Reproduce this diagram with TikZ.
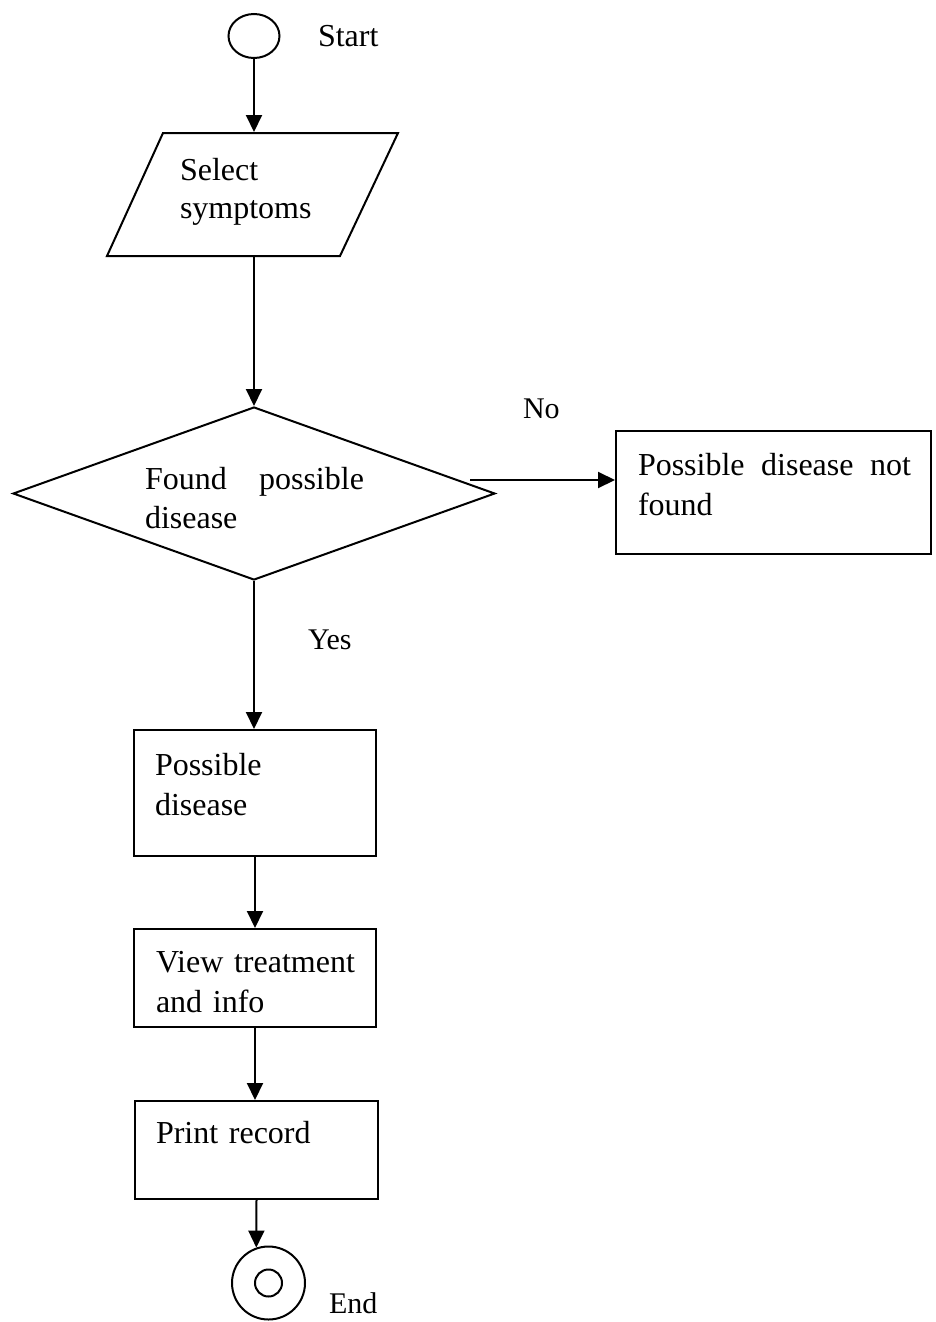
\documentclass[tikz,border=0pt]{standalone}
\usepackage{fontspec}
\setmainfont{Liberation Serif}
\usetikzlibrary{arrows.meta,shapes.geometric}
\begin{document}
\begin{tikzpicture}[x=1pt,y=-1pt,line width=2pt,
  flow/.style={-{Triangle[length=17pt,width=16pt]}},
  box/.style={draw,rectangle,inner sep=0pt},
  txt/.style={inner sep=0pt,anchor=base west,align=left,text width=210pt,font=\fontsize{32}{40}\selectfont},
  lbl/.style={inner sep=0pt,anchor=base west,font=\fontsize{30}{36}\selectfont}]
\path[use as bounding box] (0,0) rectangle (935,1322);

% terminals, input, decision and process boxes
\node[draw,ellipse,minimum width=51pt,minimum height=44pt,inner sep=0pt] (start) at (254,36) {};
\draw (163,133) -- (398,133) -- (340,256) -- (107,256) -- cycle;
\node[inner sep=0pt,minimum width=233pt,minimum height=123pt] (sel) at (254,194.5) {};
\node[draw,diamond,minimum width=482pt,minimum height=173pt,inner sep=0pt] (dia) at (254,493.5) {};
\node[box,minimum width=315pt,minimum height=123pt] (nf) at (773.5,492.5) {};
\node[box,minimum width=242pt,minimum height=126pt] (pd) at (255,793) {};
\node[box,minimum width=242pt,minimum height=98pt] (vt) at (255,978) {};
\node[box,minimum width=243pt,minimum height=98pt] (pr) at (256.5,1150) {};
\node[draw,circle,minimum size=73pt,inner sep=0pt] (end) at (268.5,1283) {};
\node[draw,circle,minimum size=27pt,inner sep=0pt] (endin) at (end.center) {};

% texts
\node[lbl,font=\fontsize{32}{38}\selectfont] (tstart) at (317,47) {Start};
\node[txt] (tsel) at (179,180) {Select\\[-2pt]symptoms};
\node[txt,text width=219pt] (tdia) at (144,489) {Found\hfill possible\\[-1pt]disease};
\node[lbl] (tno) at (522,418) {No};
\node[txt,text width=273pt] (tnf) at (637,475) {Possible\hfill disease\hfill not\\found};
\node[lbl] (tyes) at (307,649) {Yes};
\node[txt] (tpd) at (154,775) {Possible\\disease};
\node[txt] (tvt) at (155,972) {View treatment\\and info};
\node[txt] (tpr) at (155,1143) {Print record};
\node[lbl] (tend) at (328,1313) {End};

% connectors
\coordinate (nostart) at (470,480);
\draw[flow] (start) -- (sel.north);
\draw[flow] (sel.south) -- (dia.north);
\draw[flow] (nostart) -- (nostart -| nf.west);
\draw[flow] (dia.south) -- (dia.south |- pd.north);
\draw[flow] (pd.south) -- (vt.north);
\draw[flow] (vt.south) -- (vt.south |- pr.north);
\draw[flow] (pr.south) -- (end.109);
\end{tikzpicture}
\end{document}
